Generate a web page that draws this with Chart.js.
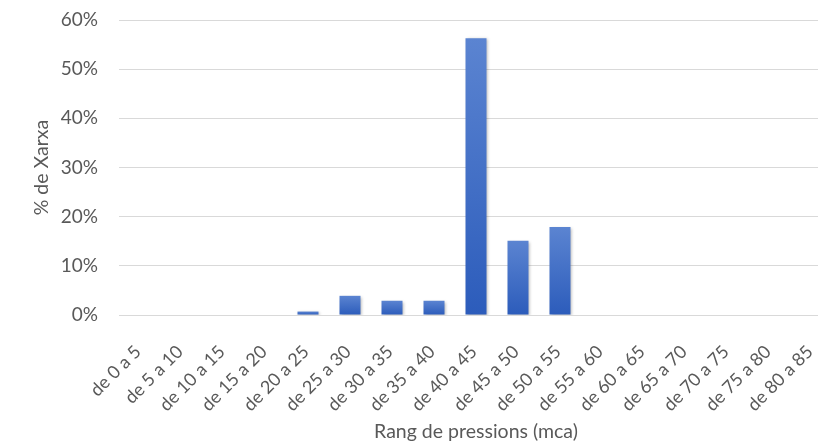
<!DOCTYPE html>
<html>
<head>
<meta charset="utf-8">
<script src="https://cdn.jsdelivr.net/npm/chart.js@4/dist/chart.umd.min.js"></script>
<style>
  html, body { margin: 0; padding: 0; background: #ffffff; overflow: hidden; }
  #wrap { width: 840px; height: 443px; }
</style>
</head>
<body>
<div id="wrap"><canvas id="c" width="840" height="443"></canvas></div>
<script>
// Pressure ranges (mca) and share of the network in each range (%)
const categories = [
  'de 0 a 5', 'de 5 a 10', 'de 10 a 15', 'de 15 a 20', 'de 20 a 25',
  'de 25 a 30', 'de 30 a 35', 'de 35 a 40', 'de 40 a 45', 'de 45 a 50',
  'de 50 a 55', 'de 55 a 60', 'de 60 a 65', 'de 65 a 70', 'de 70 a 75',
  'de 75 a 80', 'de 80 a 85'
];
const networkShare = [0, 0, 0, 0, 0.7, 3.9, 2.9, 2.9, 56.3, 15.1, 17.9, 0, 0, 0, 0, 0, 0];
const yTicks = [0, 10, 20, 30, 40, 50, 60];

const textColor = '#595959';
const fontFamily = 'Lato, "Open Sans", sans-serif';

// Each bar gets its own vertical gradient, lighter at the top
function barGradient(ctx) {
  const chart = ctx.chart;
  const yScale = chart.scales.y;
  if (!yScale || ctx.type !== 'data') return '#3d6cc6';
  const v = ctx.parsed ? ctx.parsed.y : ctx.raw;
  const top = yScale.getPixelForValue(v);
  const base = yScale.getPixelForValue(0);
  if (!isFinite(top) || !isFinite(base) || base - top < 1) return '#3d6cc6';
  const g = chart.ctx.createLinearGradient(0, top, 0, base);
  g.addColorStop(0, '#5b84d1');
  g.addColorStop(1, '#2c5cbb');
  return g;
}

// Soft drop shadow under the bars
const barShadow = {
  id: 'barShadow',
  beforeDatasetsDraw(chart) {
    const c = chart.ctx;
    c.save();
    c.shadowColor = 'rgba(0,0,0,0.28)';
    c.shadowBlur = 3;
    c.shadowOffsetX = 1;
    c.shadowOffsetY = 1;
  },
  afterDatasetsDraw(chart) {
    chart.ctx.restore();
  }
};

new Chart(document.getElementById('c'), {
  type: 'bar',
  data: {
    labels: categories,
    datasets: [{
      data: networkShare,
      backgroundColor: barGradient,
      borderWidth: 0,
      barPercentage: 0.5,
      categoryPercentage: 1.0
    }]
  },
  options: {
    responsive: false,
    animation: false,
    devicePixelRatio: 1,
    layout: { padding: { left: 0, right: 7, top: 20, bottom: 0 } },
    plugins: {
      legend: { display: false },
      tooltip: { enabled: false }
    },
    scales: {
      x: {
        grid: { display: false, drawTicks: false },
        border: { display: false },
        ticks: {
          color: textColor,
          font: { family: fontFamily, size: 18 },
          minRotation: 45,
          maxRotation: 45,
          autoSkip: false,
          padding: 26,
          labelOffset: -2
        },
        title: {
          display: true,
          text: 'Rang de pressions (mca)',
          color: textColor,
          font: { family: fontFamily, size: 19.5 },
          padding: { top: 0, bottom: 0 }
        },
        afterFit(scale) {
          scale.height = 128;
          scale.paddingLeft = 0;
          scale.paddingRight = 0;
        }
      },
      y: {
        min: 0,
        max: 60,
        grid: { color: '#d9d9d9', lineWidth: 1, drawTicks: false },
        border: { display: false },
        afterBuildTicks(scale) { scale.ticks = yTicks.map(v => ({ value: v })); },
        ticks: {
          color: textColor,
          font: { family: fontFamily, size: 19 },
          padding: 21,
          callback: v => v + '%'
        },
        title: {
          display: true,
          text: '% de Xarxa',
          color: textColor,
          font: { family: fontFamily, size: 19.5 },
          padding: { top: 30, bottom: 0 }
        },
        afterFit(scale) {
          scale.width = 119;
          scale.paddingTop = 0;
          scale.paddingBottom = 0;
        }
      }
    }
  },
  plugins: [barShadow]
});
</script>
</body>
</html>
